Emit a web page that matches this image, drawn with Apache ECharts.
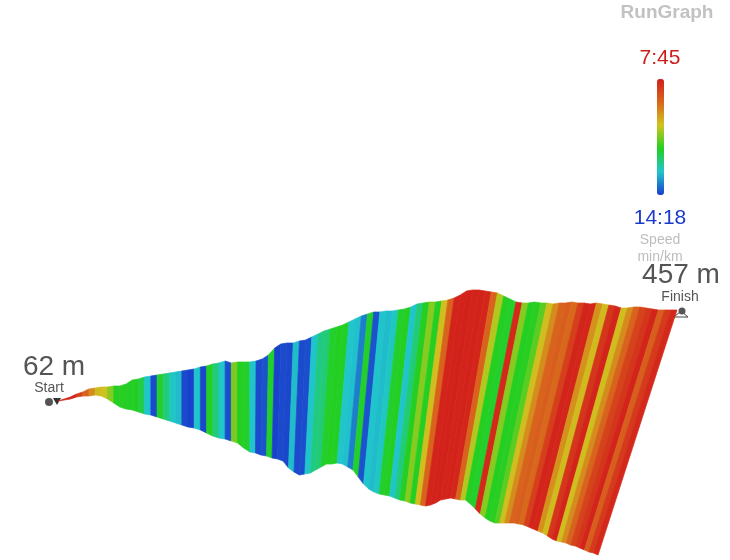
<!DOCTYPE html>
<html>
<head>
<meta charset="utf-8">
<script src="https://cdn.jsdelivr.net/npm/echarts@6/dist/echarts.min.js"></script>
<style>
html,body{margin:0;padding:0;background:#fff;}
#chart{width:730px;height:560px;}
</style>
</head>
<body>
<div id="chart"></div>
<script>
// distance along route (km)
const dist = [0,0.1,0.2,0.3,0.4,0.5,0.6,0.7,0.8,0.9,1,1.1,1.2,1.3,1.4,1.5,1.6,1.7,1.8,1.9,2,2.1,2.2,2.3,2.4,2.5,2.6,2.7,2.8,2.9,3,3.1,3.2,3.3,3.4,3.5,3.6,3.7,3.8,3.9,4,4.1,4.2,4.3,4.4,4.5,4.6,4.7,4.8,4.9,5,5.1,5.2,5.3,5.4,5.5,5.6,5.7,5.8,5.9,6,6.1,6.2,6.3,6.4,6.5,6.6,6.7,6.8,6.9,7,7.1,7.2,7.3,7.4,7.5,7.6,7.7,7.8,7.9,8,8.1,8.2,8.3,8.4,8.5,8.6,8.7,8.8,8.9,9,9.1,9.2,9.3,9.4,9.5,9.6,9.7,9.8,9.9,10];
// projected height of the profile top (scene units)
const topElev = [159,161,163,166,168,171,172,173,173,174,174,176,180,181,183,184,185,186,187,188,189,190,191,193,194,196,197,199,197,198,198,198,199,201,205,212,216,217,217,219,220,223,226,229,231,233,235,238,241,244,246,248,248,249,249,250,251,253,256,257,258,258,259,260,262,265,269,270,270,269,268,267,264,261,258,257,257,258,257,257,256,257,257,258,257,257,256,257,256,255,254,252,252,253,253,252,251,250,250,250,250];
// projected height of the profile base (scene units)
const baseElev = [159,160,161,163,164,164,165,164,161,157,153,151,150,148,146,145,143,141,139,137,135,133,132,130,127,124,122,121,119,117,112,108,107,105,104,102,101,99,92,88,85,86,87,90,93,96,96,97,96,93,90,83,76,71,68,66,65,64,62,60,59,57,56,55,54,55,57,60,61,62,61,60,60,56,51,46,42,39,37,37,37,37,37,36,35,33,31,29,27,24,21,19,18,17,15,14,12,10,8,7,5];
// pace per segment (seconds per km)
const pace = [470,472,468,500,540,575,612,618,655,700,698,702,700,720,780,850,705,740,775,785,850,855,780,852,700,740,778,848,660,700,705,780,850,845,705,855,850,852,785,850,848,780,745,740,705,700,702,778,782,820,705,845,780,785,775,705,700,780,740,700,655,700,615,540,470,468,466,470,468,472,540,635,700,705,475,655,700,698,675,615,575,540,535,545,500,470,472,580,612,490,470,615,575,540,505,490,470,535,495,475,470];
const paceRange = [465, 858];
const paceRangeLabels = ['7:45', '14:18'];
const endElevations = [62, 457];
const endLabels = ['Start', 'Finish'];

// perspective shear of the wall (km of horizontal shift of the base)
const SHEAR_START = 3.1, SHEAR_LIN = 0.1, SHEAR_QUAD = 0.0123;
function lean(d) {
  const u = Math.max(0, d - SHEAR_START);
  return SHEAR_LIN * u + SHEAR_QUAD * u * u;
}

const data = dist.map((d, i) => [d, topElev[i], baseElev[i], pace[i]]);

const chart = echarts.init(document.getElementById('chart'), null, {renderer: 'canvas'});
const FONT = '"Liberation Sans", Arial, Helvetica, sans-serif';

function renderItem(params, api) {
  const i = params.dataIndex;
  if (i >= dist.length - 1) return null;
  const d0 = api.value(0), d1 = dist[i + 1];
  const t0 = api.coord([d0, api.value(1)]);
  const t1 = api.coord([d1, topElev[i + 1]]);
  const b1 = api.coord([d1 - lean(d1), baseElev[i + 1]]);
  const b0 = api.coord([d0 - lean(d0), api.value(2)]);
  const c = api.visual('color');
  return {
    type: 'polygon',
    shape: {points: [t0, t1, b1, b0]},
    style: {fill: c, stroke: c, lineWidth: 0.7}
  };
}

chart.setOption({
  animation: false,
  backgroundColor: '#ffffff',
  grid: {left: 58, right: 53, top: 0, bottom: 0},
  xAxis: {type: 'value', min: 0, max: 10, show: false},
  yAxis: {type: 'value', min: 0, max: 560, show: false},
  visualMap: {
    type: 'continuous',
    seriesIndex: 0,
    dimension: 3,
    min: paceRange[0],
    max: paceRange[1],
    inverse: true,
    calculable: false,
    hoverLink: false,
    orient: 'vertical',
    left: 657,
    top: 79,
    padding: 0,
    itemWidth: 7,
    itemHeight: 116,
    text: null,
    showLabel: false,
    inRange: {color: ['#d21f1a', '#d8661c', '#cfc61e', '#22cf22', '#20c6cc', '#1a3ccc']}
  },
  series: [{
    type: 'custom',
    renderItem: renderItem,
    encode: {x: 0, y: 1},
    data: data,
    silent: true
  }]
});

const sp = chart.convertToPixel({gridIndex: 0}, [dist[0], topElev[0]]);
const fp = chart.convertToPixel({gridIndex: 0}, [dist[dist.length - 1], topElev[topElev.length - 1]]);

const txt = (x, y, text, size, color, weight) => ({
  type: 'text', x: x, y: y, silent: true,
  style: {text: text, fill: color, font: (weight || 'normal') + ' ' + size + 'px ' + FONT, align: 'center', verticalAlign: 'middle'}
});

chart.setOption({
  graphic: [
    txt(667, 13, 'RunGraph', 19, '#c2c2c2', 'bold'),
    txt(660, 58, paceRangeLabels[0], 21, '#cc1f1a'),
    txt(660, 218, paceRangeLabels[1], 21, '#1a3acc'),
    txt(660, 240, 'Speed', 14, '#bdbdbd'),
    txt(660, 257, 'min/km', 14, '#bdbdbd'),
    txt(sp[0] - 4, sp[1] - 34, endElevations[0] + ' m', 28, '#555555'),
    txt(sp[0] - 9, sp[1] - 13, endLabels[0], 14, '#555555'),
    {type: 'circle', silent: true, shape: {cx: sp[0] - 9, cy: sp[1] + 1, r: 4}, style: {fill: '#555555'}},
    {type: 'polygon', silent: true, shape: {points: [[sp[0] - 5, sp[1] - 3], [sp[0] + 3, sp[1] - 3], [sp[0] - 1, sp[1] + 4]]}, style: {fill: '#333333'}},
    txt(fp[0] + 4, fp[1] - 35, endElevations[1] + ' m', 28, '#555555'),
    txt(fp[0] + 3, fp[1] - 13, endLabels[1], 14, '#555555'),
    {type: 'polygon', silent: true, shape: {points: [[fp[0] - 3, fp[1] + 7], [fp[0] + 11, fp[1] + 7], [fp[0] + 4, fp[1] + 1]]}, style: {fill: '#ffffff', stroke: '#444444', lineWidth: 1}},
    {type: 'circle', silent: true, shape: {cx: fp[0] + 5, cy: fp[1] + 1, r: 3.5}, style: {fill: '#555555'}}
  ]
});
</script>
</body>
</html>
